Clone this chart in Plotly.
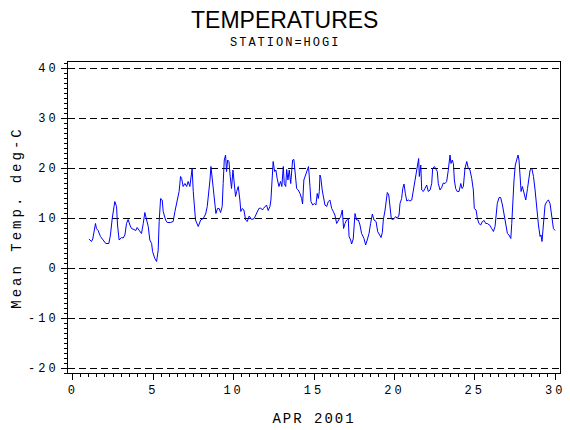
import plotly.graph_objects as go

# hourly-ish mean temperature at HOGI, April 2001 (day of month, deg C)
days = [1.00, 1.16, 1.24, 1.41, 1.47, 1.57, 1.72, 1.89, 2.05, 2.24, 2.34, 2.45, 2.55, 2.61, 2.72, 2.78, 2.88,
        3.03, 3.13, 3.24, 3.34, 3.44, 3.55, 3.65, 3.80, 3.92, 4.00, 4.13, 4.27, 4.38, 4.48, 4.59, 4.69, 4.79,
        4.90, 4.96, 5.10, 5.21, 5.31, 5.37, 5.46, 5.56, 5.62, 5.77, 5.87, 6.08, 6.24, 6.35, 6.49, 6.61, 6.70,
        6.77, 6.86, 6.97, 7.08, 7.17, 7.28, 7.34, 7.42, 7.49, 7.55, 7.63, 7.80, 7.95, 8.11, 8.26, 8.36, 8.46,
        8.53, 8.59, 8.65, 8.73, 8.84, 8.90, 9.00, 9.10, 9.19, 9.29, 9.35, 9.42, 9.50, 9.56, 9.63, 9.71, 9.79,
        9.87, 9.96, 10.02, 10.12, 10.19, 10.29, 10.39, 10.45, 10.54, 10.64, 10.75, 10.85, 10.97, 11.12, 11.28,
        11.43, 11.57, 11.68, 11.80, 11.85, 12.05, 12.15, 12.26, 12.32, 12.40, 12.46, 12.55, 12.63, 12.71, 12.82,
        12.92, 13.00, 13.09, 13.15, 13.24, 13.30, 13.38, 13.46, 13.55, 13.61, 13.67, 13.75, 13.84, 13.92, 14.02,
        14.13, 14.23, 14.29, 14.37, 14.48, 14.58, 14.66, 14.75, 14.81, 14.92, 15.02, 15.12, 15.20, 15.27, 15.33,
        15.37, 15.43, 15.51, 15.58, 15.68, 15.79, 15.89, 15.99, 16.10, 16.20, 16.30, 16.41, 16.51, 16.66, 16.76,
        16.84, 16.93, 17.03, 17.13, 17.18, 17.28, 17.34, 17.44, 17.55, 17.65, 17.76, 17.86, 17.96, 18.11, 18.21,
        18.31, 18.42, 18.52, 18.63, 18.73, 18.86, 18.96, 19.06, 19.17, 19.25, 19.31, 19.42, 19.48, 19.56, 19.65,
        19.73, 19.81, 19.93, 20.08, 20.18, 20.29, 20.35, 20.45, 20.52, 20.60, 20.68, 20.77, 20.87, 20.97, 21.08,
        21.18, 21.24, 21.33, 21.39, 21.45, 21.51, 21.55, 21.64, 21.70, 21.80, 21.90, 22.01, 22.11, 22.22, 22.32,
        22.38, 22.49, 22.59, 22.67, 22.73, 22.84, 22.94, 23.04, 23.15, 23.25, 23.35, 23.46, 23.52, 23.60, 23.67,
        23.73, 23.81, 23.91, 24.02, 24.13, 24.21, 24.29, 24.39, 24.50, 24.60, 24.70, 24.81, 24.91, 24.97, 25.08,
        25.16, 25.26, 25.37, 25.47, 25.58, 25.68, 25.78, 25.95, 26.05, 26.16, 26.26, 26.32, 26.40, 26.51, 26.61,
        26.72, 26.82, 26.93, 27.03, 27.13, 27.24, 27.30, 27.36, 27.44, 27.52, 27.61, 27.69, 27.75, 27.82, 27.88,
        27.96, 28.07, 28.17, 28.28, 28.36, 28.44, 28.55, 28.65, 28.75, 28.86, 28.96, 29.06, 29.12, 29.18, 29.27,
        29.37, 29.48, 29.58, 29.68, 29.79, 29.89, 29.99]
temps = [5.8, 5.3, 5.8, 8.9, 7.9, 7.5, 6.3, 5.5, 4.9, 4.9, 6.6, 9.9, 12.6, 13.3, 12.3, 8.6, 5.6,
         6.1, 6.0, 6.6, 8.9, 9.7, 8.6, 7.9, 7.7, 7.5, 8.1, 7.5, 6.9, 8.9, 11.1, 9.6, 8.3, 5.6,
         4.9, 3.3, 1.9, 1.3, 3.6, 9.3, 13.9, 13.6, 11.3, 9.6, 9.1, 9.1, 9.3, 11.3, 13.6, 15.3, 18.3,
         17.9, 16.3, 16.9, 16.3, 17.3, 16.3, 18.6, 19.9, 15.3, 12.3, 9.6, 8.3, 9.6, 9.9, 10.8, 12.3, 14.9,
         17.6, 20.3, 18.3, 15.3, 12.3, 10.9, 11.9, 11.9, 11.1, 12.3, 16.9, 21.6, 22.6, 19.3, 21.6, 21.3, 18.3,
         15.9, 19.6, 16.9, 14.3, 15.3, 16.3, 13.6, 11.3, 11.9, 11.6, 9.6, 9.3, 10.4, 9.7, 9.9,
         10.9, 11.9, 12.0, 11.6, 11.9, 12.6, 11.5, 12.3, 13.6, 17.6, 21.3, 19.3, 19.6, 17.9, 16.3,
         17.3, 16.3, 20.3, 16.9, 16.3, 19.7, 17.6, 19.6, 16.9, 18.9, 21.6, 21.7, 18.6, 15.9, 15.6,
         14.9, 13.9, 12.8, 17.6, 18.6, 19.3, 20.3, 16.3, 13.3, 12.6, 12.9, 12.6, 14.9, 13.9, 15.3,
         18.6, 17.9, 15.6, 14.3, 12.6, 12.3, 13.3, 13.6, 11.9, 11.3, 10.6, 8.9, 9.6, 10.3, 11.6,
         7.9, 8.9, 9.6, 9.9, 6.3, 5.6, 4.8, 5.8, 10.9, 9.6, 9.6, 8.6, 6.9, 5.9, 4.6,
         5.6, 6.9, 8.9, 10.8, 9.6, 9.3, 7.3, 6.6, 6.1, 7.1, 9.6, 11.6, 13.6, 15.1, 14.6,
         11.9, 9.8, 9.7, 10.3, 9.9, 10.6, 12.9, 13.9, 15.9, 16.8, 14.9, 13.4, 13.6, 13.4, 13.6,
         15.6, 16.9, 18.3, 20.3, 21.6, 21.9, 18.3, 20.6, 15.6, 15.3, 15.9, 16.6, 15.3, 15.6, 16.9,
         19.9, 20.3, 19.6, 19.3, 16.9, 15.6, 16.1, 17.0, 16.9, 17.3, 19.5, 22.6, 20.9, 21.6, 20.9,
         17.6, 15.9, 15.3, 15.3, 16.9, 15.9, 16.3, 19.9, 21.3, 19.9, 19.6, 17.9, 15.6, 11.9, 11.6,
         9.9, 8.9, 8.6, 9.3, 9.5, 8.9, 8.9, 8.5, 7.9, 7.3, 8.3, 10.3, 12.9, 14.1, 14.1,
         12.6, 11.0, 8.9, 6.9, 6.6, 5.9, 8.9, 13.6, 17.6, 20.6, 21.9, 22.6, 21.6, 16.9, 15.3,
         16.3, 14.6, 13.6, 15.9, 18.3, 19.6, 19.9, 18.3, 15.6, 11.3, 8.6, 6.3, 6.6, 5.3, 9.6,
         12.6, 13.3, 13.6, 12.9, 10.3, 7.9, 7.5]

x_ticks = [0, 5, 10, 15, 20, 25, 30]
y_ticks = [-20, -10, 0, 10, 20, 30, 40]

fig = go.Figure()
fig.add_trace(go.Scatter(x=days, y=temps, mode="lines",
                         line=dict(color="#0000ff", width=1), showlegend=False))

# SAS-style spaced lettering
sp = '<span style="letter-spacing:3px">{}</span>'
sp2 = '<span style="letter-spacing:2px">{}</span>'

# page body adds an 8px margin, so the figure is 8px smaller than the window
fig.update_layout(
    width=562, height=422,
    paper_bgcolor="white", plot_bgcolor="white",
    margin=dict(l=60, r=10, t=54, b=57),
    font=dict(family="Liberation Mono", size=12, color="black"),
    annotations=[
        # titles are centred on the page, not on the plot frame
        dict(text="TEMPERATURES", x=0.441, y=1, xref="paper", yref="paper", xanchor="center",
             yanchor="middle", showarrow=False, yshift=42,
             font=dict(family="Liberation Sans", size=23, color="black")),
        dict(text=sp2.format("STATION=HOGI"), x=0.441, y=1, xref="paper", yref="paper",
             xanchor="center", yanchor="middle", showarrow=False, yshift=19,
             font=dict(family="Liberation Mono", size=12, color="black")),
    ],
)
fig.update_xaxes(
    range=[-0.3, 30.3], tickvals=x_ticks, ticktext=[sp.format(v) for v in x_ticks],
    showline=True, mirror=True, linecolor="black", linewidth=1,
    ticks="outside", ticklen=6, tickcolor="black",
    minor=dict(ticks="outside", ticklen=3, dtick=0.5, tickcolor="black"),
    showgrid=False, zeroline=False, automargin=False,
    title=dict(text=sp2.format("APR 2001"), standoff=15),
)
fig.update_yaxes(
    range=[-21, 41.2], tickvals=y_ticks, ticktext=[sp.format(v) for v in y_ticks],
    showline=True, mirror=True, linecolor="black", linewidth=1,
    ticks="outside", ticklen=6, tickcolor="black",
    minor=dict(ticks="outside", ticklen=3, dtick=1, tickcolor="black", showgrid=False),
    showgrid=True, gridcolor="black", gridwidth=1, griddash="7px,4px",
    zeroline=False, automargin=False,
    title=dict(text=sp.format("Mean Temp. deg-C"), standoff=3),
)

fig.write_html("out.html")
